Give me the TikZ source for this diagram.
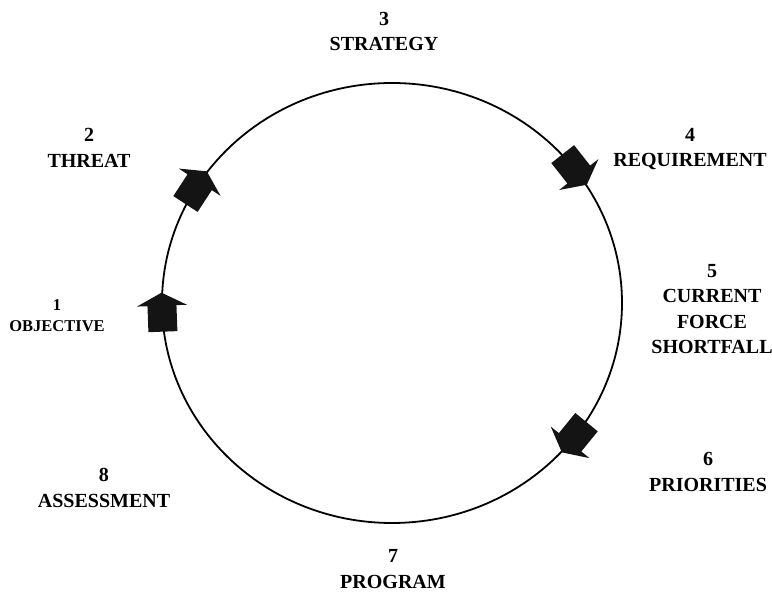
\documentclass[tikz,border=0pt]{standalone}
\usepackage{fontspec}
\setmainfont{Liberation Serif}
\begin{document}
\begin{tikzpicture}[x=1pt,y=1pt,
  label/.style={font=\bfseries\fontsize{20}{25.5}\selectfont, align=center, inner sep=0pt},
  smalllabel/.style={font=\bfseries\fontsize{16.5}{21}\selectfont, align=center, inner sep=0pt},
  cyclearrow/.style={fill=black!92}]
\useasboundingbox (0,0) rectangle (772,-593);

% the planning cycle
\draw[line width=1.8pt] (392,-303) ellipse [x radius=230, y radius=220];

% block arrows sitting on the cycle, pointing clockwise
\foreach \t in {182,148,37,-38}{
  \pgfmathsetmacro\ang{atan2(-220*cos(\t),230*sin(\t))}
  \fill[cyclearrow, shift={({392+230*cos(\t)},{-303+220*sin(\t))})}, rotate=\ang]
    (-21,-14.5) -- (5,-14.5) -- (5,-25) -- (18,0) -- (5,25) -- (5,14.5) -- (-21,14.5) -- cycle;
}

% stage labels
\node[label]      (s3) at (384,-31.5) {3\\STRATEGY};
\node[label]      (s2) at (89,-148)   {2\\THREAT};
\node[smalllabel] (s1) at (57,-316)   {1\\OBJECTIVE};
\node[label]      (s8) at (104,-488)  {8\\ASSESSMENT};
\node[label]      (s4) at (690,-149)  {4\\REQUIREMENT};
\node[label]      (s5) at (712,-309)  {5\\CURRENT\\FORCE\\SHORTFALL};
\node[label]      (s6) at (708,-472)  {6\\PRIORITIES};
\node[label]      (s7) at (393,-569)  {7\\PROGRAM};
\end{tikzpicture}
\end{document}
